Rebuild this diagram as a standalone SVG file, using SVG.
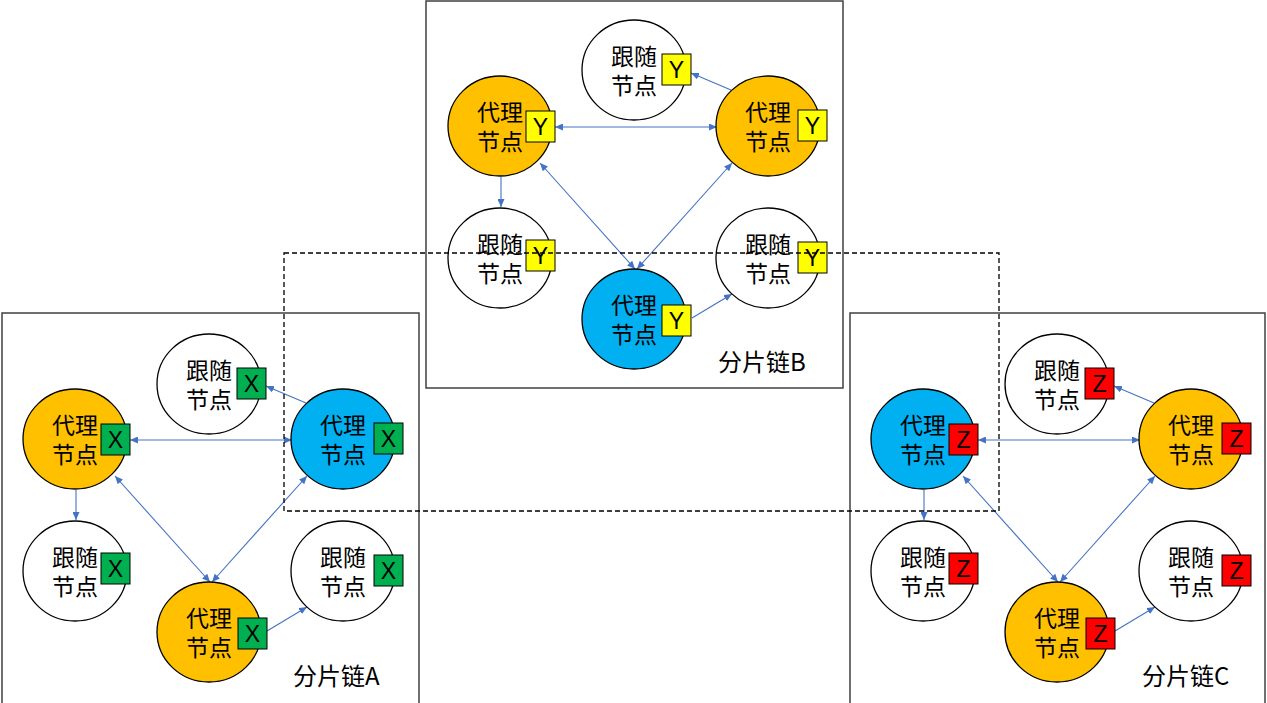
<svg xmlns="http://www.w3.org/2000/svg" width="1267" height="703" viewBox="0 0 1267 703">
<style>
.frame{fill:none;stroke:#404040;stroke-width:1.5}
.node{stroke:#000;stroke-width:1.3}
.proxy{fill:#FFC000}
.leader{fill:#00B0F0}
.follower{fill:#FFFFFF}
.tag{stroke:#000;stroke-width:1}
.tx{fill:#00B050}.ty{fill:#FFFF00}.tz{fill:#FF0000}
.lbl{font-family:"Noto Sans CJK SC","Noto Sans",sans-serif;font-size:23px;text-anchor:middle;fill:#000}
.tl{font-family:"Liberation Sans",Arial,sans-serif;font-size:23px;text-anchor:middle;fill:#000}
.title{font-family:"Noto Sans CJK SC","Noto Sans",sans-serif;font-size:24px;fill:#000}
.c1{fill:none;stroke:#4472C4;stroke-width:1.1;marker-end:url(#ah)}
.c2{fill:none;stroke:#4472C4;stroke-width:1.1;marker-start:url(#ah);marker-end:url(#ah)}
.dash{fill:none;stroke:#000;stroke-width:1.3;stroke-dasharray:5 3}
</style>
<defs>
<marker id="ah" viewBox="0 0 8 7" refX="8" refY="3.5" markerWidth="8" markerHeight="7" markerUnits="userSpaceOnUse" orient="auto-start-reverse">
<path d="M0,0 L8,3.5 L0,7 z" fill="#4472C4"/>
</marker>
</defs>
<rect width="1267" height="703" fill="#FFFFFF"/>

<!-- shard frames -->
<g id="frames">
<rect class="frame" x="2" y="313" width="417" height="400"/>
<rect class="frame" x="426" y="1" width="417" height="387"/>
<rect class="frame" x="850" y="313" width="415" height="400"/>
<text class="title" x="293" y="685">分片链A</text>
<text class="title" x="718" y="371">分片链B</text>
<text class="title" x="1142" y="685">分片链C</text>
</g>

<!-- connectors -->
<g id="connectors">
<g transform="translate(75,439)">
<line class="c1" x1="231" y1="-36" x2="191" y2="-53"/>
<line class="c2" x1="55" y1="1" x2="217" y2="1"/>
<line class="c1" x1="1" y1="51" x2="1" y2="81"/>
<line class="c2" x1="40" y1="37" x2="135" y2="143"/>
<line class="c2" x1="232" y1="37" x2="137" y2="143"/>
<line class="c1" x1="192" y1="192" x2="232" y2="168"/>
</g>
<g transform="translate(500,126)">
<line class="c1" x1="231" y1="-36" x2="191" y2="-53"/>
<line class="c2" x1="55" y1="1" x2="217" y2="1"/>
<line class="c1" x1="1" y1="51" x2="1" y2="81"/>
<line class="c2" x1="40" y1="37" x2="135" y2="143"/>
<line class="c2" x1="232" y1="37" x2="137" y2="143"/>
<line class="c1" x1="192" y1="192" x2="232" y2="168"/>
</g>
<g transform="translate(923,439)">
<line class="c1" x1="231" y1="-36" x2="191" y2="-53"/>
<line class="c2" x1="55" y1="1" x2="217" y2="1"/>
<line class="c1" x1="1" y1="51" x2="1" y2="81"/>
<line class="c2" x1="40" y1="37" x2="135" y2="143"/>
<line class="c2" x1="232" y1="37" x2="137" y2="143"/>
<line class="c1" x1="192" y1="192" x2="232" y2="168"/>
</g>
</g>

<!-- shard A nodes -->
<g id="A-proxy-left" transform="translate(75,439)">
<ellipse class="node proxy" rx="52" ry="50"/>
<text class="lbl" x="0" y="-5">代理</text><text class="lbl" x="0" y="24">节点</text>
<rect class="tag tx" x="26" y="-15" width="29" height="31"/><text class="tl" x="40.5" y="9">X</text>
</g>
<g id="A-follower-top" transform="translate(209,384)">
<ellipse class="node follower" rx="52" ry="50"/>
<text class="lbl" x="0" y="-5">跟随</text><text class="lbl" x="0" y="24">节点</text>
<rect class="tag tx" x="28" y="-16" width="29" height="31"/><text class="tl" x="42.5" y="8">X</text>
</g>
<g id="A-leader" transform="translate(343,439)">
<ellipse class="node leader" rx="52" ry="50"/>
<text class="lbl" x="0" y="-5">代理</text><text class="lbl" x="0" y="24">节点</text>
<rect class="tag tx" x="31" y="-16" width="29" height="31"/><text class="tl" x="45.5" y="8">X</text>
</g>
<g id="A-follower-left" transform="translate(75,571)">
<ellipse class="node follower" rx="52" ry="50"/>
<text class="lbl" x="0" y="-5">跟随</text><text class="lbl" x="0" y="24">节点</text>
<rect class="tag tx" x="26" y="-18" width="29" height="31"/><text class="tl" x="40.5" y="6">X</text>
</g>
<g id="A-follower-right" transform="translate(343,571)">
<ellipse class="node follower" rx="52" ry="50"/>
<text class="lbl" x="0" y="-5">跟随</text><text class="lbl" x="0" y="24">节点</text>
<rect class="tag tx" x="31" y="-16" width="29" height="31"/><text class="tl" x="45.5" y="8">X</text>
</g>
<g id="A-proxy-bottom" transform="translate(209,632)">
<ellipse class="node proxy" rx="52" ry="50"/>
<text class="lbl" x="0" y="-5">代理</text><text class="lbl" x="0" y="24">节点</text>
<rect class="tag tx" x="29" y="-14" width="29" height="31"/><text class="tl" x="43.5" y="10">X</text>
</g>

<!-- shard B nodes -->
<g id="B-proxy-left" transform="translate(500,126)">
<ellipse class="node proxy" rx="52" ry="50"/>
<text class="lbl" x="0" y="-5">代理</text><text class="lbl" x="0" y="24">节点</text>
<rect class="tag ty" x="26" y="-15" width="29" height="31"/><text class="tl" x="40.5" y="9">Y</text>
</g>
<g id="B-follower-top" transform="translate(634,70)">
<ellipse class="node follower" rx="52" ry="50"/>
<text class="lbl" x="0" y="-5">跟随</text><text class="lbl" x="0" y="24">节点</text>
<rect class="tag ty" x="28" y="-16" width="29" height="31"/><text class="tl" x="42.5" y="8">Y</text>
</g>
<g id="B-proxy-right" transform="translate(768,126)">
<ellipse class="node proxy" rx="52" ry="50"/>
<text class="lbl" x="0" y="-5">代理</text><text class="lbl" x="0" y="24">节点</text>
<rect class="tag ty" x="30" y="-16" width="29" height="31"/><text class="tl" x="44.5" y="8">Y</text>
</g>
<g id="B-follower-left" transform="translate(500,258)">
<ellipse class="node follower" rx="52" ry="50"/>
<text class="lbl" x="0" y="-5">跟随</text><text class="lbl" x="0" y="24">节点</text>
<rect class="tag ty" x="26" y="-18" width="29" height="31"/><text class="tl" x="40.5" y="6">Y</text>
</g>
<g id="B-follower-right" transform="translate(768,258)">
<ellipse class="node follower" rx="52" ry="50"/>
<text class="lbl" x="0" y="-5">跟随</text><text class="lbl" x="0" y="24">节点</text>
<rect class="tag ty" x="30" y="-16" width="29" height="31"/><text class="tl" x="44.5" y="8">Y</text>
</g>
<g id="B-leader" transform="translate(634,319)">
<ellipse class="node leader" rx="52" ry="50"/>
<text class="lbl" x="0" y="-5">代理</text><text class="lbl" x="0" y="24">节点</text>
<rect class="tag ty" x="28" y="-14" width="29" height="31"/><text class="tl" x="42.5" y="10">Y</text>
</g>

<!-- shard C nodes -->
<g id="C-leader" transform="translate(923,439)">
<ellipse class="node leader" rx="52" ry="50"/>
<text class="lbl" x="0" y="-5">代理</text><text class="lbl" x="0" y="24">节点</text>
<rect class="tag tz" x="26" y="-15" width="29" height="31"/><text class="tl" x="40.5" y="9">Z</text>
</g>
<g id="C-follower-top" transform="translate(1057,384)">
<ellipse class="node follower" rx="52" ry="50"/>
<text class="lbl" x="0" y="-5">跟随</text><text class="lbl" x="0" y="24">节点</text>
<rect class="tag tz" x="28" y="-16" width="29" height="31"/><text class="tl" x="42.5" y="8">Z</text>
</g>
<g id="C-proxy-right" transform="translate(1191,439)">
<ellipse class="node proxy" rx="52" ry="50"/>
<text class="lbl" x="0" y="-5">代理</text><text class="lbl" x="0" y="24">节点</text>
<rect class="tag tz" x="31" y="-16" width="29" height="31"/><text class="tl" x="45.5" y="8">Z</text>
</g>
<g id="C-follower-left" transform="translate(923,571)">
<ellipse class="node follower" rx="52" ry="50"/>
<text class="lbl" x="0" y="-5">跟随</text><text class="lbl" x="0" y="24">节点</text>
<rect class="tag tz" x="26" y="-18" width="29" height="31"/><text class="tl" x="40.5" y="6">Z</text>
</g>
<g id="C-follower-right" transform="translate(1191,571)">
<ellipse class="node follower" rx="52" ry="50"/>
<text class="lbl" x="0" y="-5">跟随</text><text class="lbl" x="0" y="24">节点</text>
<rect class="tag tz" x="31" y="-16" width="29" height="31"/><text class="tl" x="45.5" y="8">Z</text>
</g>
<g id="C-proxy-bottom" transform="translate(1057,632)">
<ellipse class="node proxy" rx="52" ry="50"/>
<text class="lbl" x="0" y="-5">代理</text><text class="lbl" x="0" y="24">节点</text>
<rect class="tag tz" x="29" y="-14" width="29" height="31"/><text class="tl" x="43.5" y="10">Z</text>
</g>

<!-- cross-shard committee -->
<rect id="committee" class="dash" x="284" y="253" width="715" height="258"/>
</svg>
